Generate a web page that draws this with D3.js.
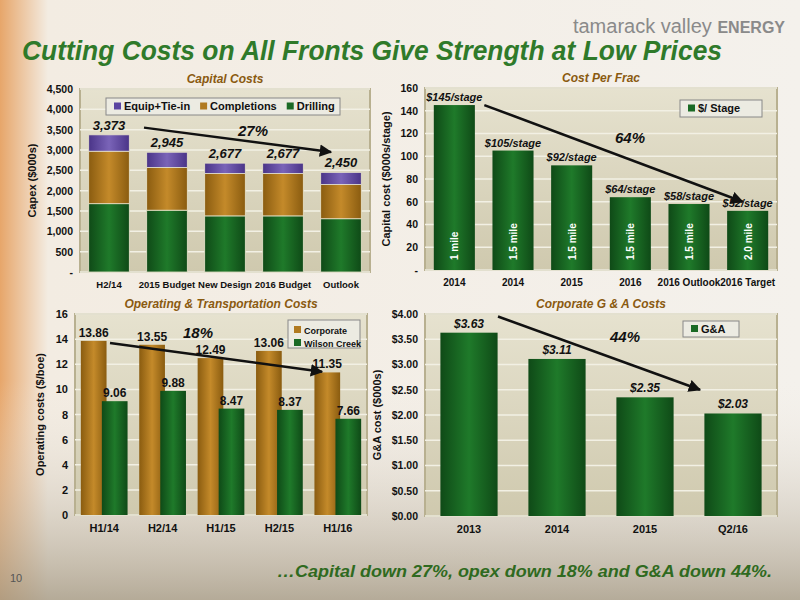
<!DOCTYPE html><html><head><meta charset="utf-8"><script src="https://cdn.jsdelivr.net/npm/d3@7"></script>
<style>body{margin:0}svg{display:block;font-family:"Liberation Sans",Arial,sans-serif}</style></head><body><svg id="c" width="800" height="600"></svg>
<script>
const capCats=["H2/14","2015 Budget","New Design","2016 Budget","Outlook"];
const drilling=[1680,1520,1380,1380,1310];
const completions=[1290,1050,1040,1040,840];
const equip=[403,375,257,257,300];
const capTotals=["3,373","2,945","2,677","2,677","2,450"];
const capTicks=[0,500,1000,1500,2000,2500,3000,3500,4000,4500];
const fracCats=["2014","2014 ","2015","2016","2016 Outlook","2016 Target"];
const fracVals=[145,105,92,64,58,52];
const fracLabels=["1 mile","1.5 mile","1.5 mile","1.5 mile","1.5 mile","2.0 mile"];
const fracTicks=[0,20,40,60,80,100,120,140,160];
const opCats=["H1/14","H2/14","H1/15","H2/15","H1/16"];
const corporate=[13.86,13.55,12.49,13.06,11.35];
const wilson=[9.06,9.88,8.47,8.37,7.66];
const opTicks=[0,2,4,6,8,10,12,14,16];
const gaCats=["2013","2014","2015","Q2/16"];
const gaVals=[3.63,3.11,2.35,2.03];
const gaTicks=[0,0.5,1,1.5,2,2.5,3,3.5,4];

const svg=d3.select("#c");
const defs=svg.append("defs");
const bg=defs.append("linearGradient").attr("id","bg").attr("x1",0).attr("x2",1);
bg.append("stop").attr("offset",0).attr("stop-color","#e7a66a");
bg.append("stop").attr("offset",0.06).attr("stop-color","#f3ece2");
bg.append("stop").attr("offset",1).attr("stop-color","#f4f1ec");
const bg2=defs.append("linearGradient").attr("id","bg2").attr("x1",0).attr("x2",0).attr("y1",0).attr("y2",1);
bg2.append("stop").attr("offset",0).attr("stop-color","#f4efe8").attr("stop-opacity",0);
bg2.append("stop").attr("offset",1).attr("stop-color","#a59a85").attr("stop-opacity",0.8);
const pa=defs.append("linearGradient").attr("id","pa").attr("x1",0).attr("x2",0).attr("y1",0).attr("y2",1);
pa.append("stop").attr("offset",0).attr("stop-color","#e6e2cf");
pa.append("stop").attr("offset",1).attr("stop-color","#cfc9ae");
function barGrad(id,dark,light){const g=defs.append("linearGradient").attr("id",id).attr("x1",0).attr("x2",1);
 g.append("stop").attr("offset",0).attr("stop-color",dark);g.append("stop").attr("offset",0.5).attr("stop-color",light);g.append("stop").attr("offset",1).attr("stop-color",dark);}
barGrad("gG","#0f4a17","#1f7a2a");barGrad("gO","#8a5c10","#c48a2a");barGrad("gP","#4a3488","#7a64b8");
defs.append("marker").attr("id","ar").attr("viewBox","0 0 10 10").attr("refX",9).attr("refY",5).attr("markerWidth",5).attr("markerHeight",5).attr("orient","auto")
 .append("path").attr("d","M0,0L10,5L0,10z").attr("fill","#111");

svg.append("rect").attr("width",800).attr("height",600).attr("fill","url(#bg)");
svg.append("rect").attr("y",380).attr("width",800).attr("height",220).attr("fill","url(#bg2)");
svg.append("text").attr("x",785).attr("y",33).attr("text-anchor","end").attr("font-size",20).attr("fill","#8a8a8a").text("tamarack valley ").append("tspan").attr("font-weight","bold").attr("font-size",16).text("ENERGY");
svg.append("text").attr("x",22).attr("y",60).attr("font-size",27).attr("font-weight","bold").attr("font-style","italic").attr("fill","#2f7a2a").attr("textLength",700).attr("lengthAdjust","spacingAndGlyphs").text("Cutting Costs on All Fronts Give Strength at Low Prices");
svg.append("text").attr("x",772).attr("y",577).attr("text-anchor","end").attr("font-size",17).attr("font-weight","bold").attr("font-style","italic").attr("fill","#2f6a20").attr("textLength",495).attr("lengthAdjust","spacingAndGlyphs").text("…Capital down 27%, opex down 18% and G&A down 44%.");
svg.append("text").attr("x",10).attr("y",582).attr("font-size",11).attr("fill","#555").text("10");

function panel(o){
 const g=svg.append("g");
 const x=d3.scaleBand().domain(o.cats).range([o.x0,o.x1]).paddingInner(o.pad).paddingOuter(o.pad/2);
 const y=d3.scaleLinear().domain([0,o.max]).range([o.y1,o.y0]);
 g.append("rect").attr("x",o.x0).attr("y",o.y0).attr("width",o.x1-o.x0).attr("height",o.y1-o.y0).attr("fill","url(#pa)").attr("stroke","#b8b090").attr("stroke-width",2);
 g.selectAll(".gl").data(o.ticks).join("line").attr("x1",o.x0).attr("x2",o.x1).attr("y1",d=>y(d)).attr("y2",d=>y(d)).attr("stroke","#f2f0e4").attr("stroke-width",1.5);
 const ya=g.append("g").attr("transform",`translate(${o.x0},0)`).call(d3.axisLeft(y).tickValues(o.ticks).tickFormat(o.fmt).tickSize(0).tickPadding(7));
 ya.select(".domain").remove();
 ya.selectAll(".tick text").attr("font-size",o.yfs||11);
 const xa=g.append("g").attr("transform",`translate(0,${o.y1})`).call(d3.axisBottom(x).tickSize(0).tickPadding(9));
 xa.select(".domain").remove();
 xa.selectAll(".tick text").attr("font-size",o.xfs||11);
 g.selectAll(".tick text").attr("font-weight","bold").attr("fill","#111");
 g.append("text").attr("x",(o.x0+o.x1)/2).attr("y",o.y0-6).attr("text-anchor","middle").attr("font-size",12).attr("font-style","italic").attr("font-weight","bold").attr("fill","#8a5a10").text(o.title);
 g.append("text").attr("transform",`translate(${o.yl},${(o.y0+o.y1)/2}) rotate(-90)`).attr("text-anchor","middle").attr("font-size",11).attr("font-weight","bold").attr("fill","#111").text(o.ytitle);
 return {g,x,y};
}
function legend(g,x,y,items,w,h,vertical){
 g.append("rect").attr("x",x).attr("y",y).attr("width",w).attr("height",h).attr("fill","#ecebe2").attr("stroke","#888");
 let cx=x+8;
 items.forEach((it,i)=>{
  const ly=vertical? y+10+i*13 : y+h/2;
  const lx=vertical? x+6 : cx;
  g.append("rect").attr("x",lx).attr("y",ly-4).attr("width",7).attr("height",7).attr("fill",it[1]);
  const t=g.append("text").attr("x",lx+10).attr("y",ly+3.5).attr("font-size",vertical?9:11).attr("font-weight","bold").attr("fill","#111").text(it[0]);
  if(!vertical) cx+=t.node().getComputedTextLength()+20;
 });
}
const lbl=(g,x,y,t,s,it)=>g.append("text").attr("x",x).attr("y",y).attr("text-anchor","middle").attr("font-size",s||12).attr("font-weight","bold").attr("font-style",it?"italic":"normal").attr("fill","#111").text(t);
const arrow=(g,x1,y1,x2,y2)=>g.append("line").attr("x1",x1).attr("y1",y1).attr("x2",x2).attr("y2",y2).attr("stroke","#111").attr("stroke-width",2.5).attr("marker-end","url(#ar)");

// Panel 1
{const p=panel({cats:capCats,x0:80,x1:370,y0:89,y1:272,max:4500,ticks:capTicks,pad:0.3,xfs:9.5,yfs:10.5,fmt:d=>d===0?"-":d3.format(",")(d),title:"Capital Costs",ytitle:"Capex ($000s)",yl:36});
 const st=d3.stack().keys(["d","c","e"])(capCats.map((cat,i)=>({cat,d:drilling[i],c:completions[i],e:equip[i]})));
 const fills=["url(#gG)","url(#gO)","url(#gP)"];
 st.forEach((s,k)=>p.g.selectAll(null).data(s).join("rect").attr("x",(d)=>p.x(d.data.cat)).attr("width",p.x.bandwidth()).attr("y",d=>p.y(d[1])).attr("height",d=>p.y(d[0])-p.y(d[1])).attr("fill",fills[k]).attr("stroke","#e8e4cc").attr("stroke-width",0.8));
 capCats.forEach((c,i)=>lbl(p.g,p.x(c)+p.x.bandwidth()/2,p.y(drilling[i]+completions[i]+equip[i])-5,capTotals[i],13,true));
 legend(p.g,106,98,[["Equip+Tie-in","#5a44a0"],["Completions","#b07a20"],["Drilling","#1a6a25"]],234,17,false);
 arrow(p.g,p.x(capCats[0])+p.x.bandwidth()/2+35,p.y(3550),p.x(capCats[4])+p.x.bandwidth()/2-10,p.y(2950));
 lbl(p.g,253,p.y(3350),"27%",15,true);
}
// Panel 2
{const p=panel({cats:fracCats,x0:425,x1:777,y0:88,y1:270,max:160,ticks:fracTicks,pad:0.3,xfs:10,yfs:10.5,fmt:d=>d===0?"-":d,title:"Cost Per Frac",ytitle:"Capital cost ($000s/stage)",yl:390});
 p.g.selectAll(null).data(fracVals).join("rect").attr("x",(d,i)=>p.x(fracCats[i])).attr("width",p.x.bandwidth()).attr("y",d=>p.y(d)).attr("height",d=>p.y(0)-p.y(d)).attr("fill","url(#gG)");
 fracVals.forEach((v,i)=>{const cx=p.x(fracCats[i])+p.x.bandwidth()/2;
  lbl(p.g,cx,p.y(v)-4,"$"+v+"/stage",11,true);
  p.g.append("text").attr("transform",`translate(${cx+4},${p.y(0)-10}) rotate(-90)`).attr("font-size",10).attr("font-weight","bold").attr("fill","#fff").text(fracLabels[i]);});
 legend(p.g,680,100,[["$/ Stage","#1a6a25"]],82,17,false);
 arrow(p.g,p.x(fracCats[0])+p.x.bandwidth()/2+30,p.y(145),p.x(fracCats[5])+p.x.bandwidth()/2-5,p.y(60));
 lbl(p.g,630,p.y(112),"64%",15,true);
}
// Panel 3
{const p=panel({cats:opCats,x0:75,x1:367,y0:314,y1:515,max:16,ticks:opTicks,pad:0.2,xfs:11,yfs:11,fmt:d=>d,title:"Operating & Transportation Costs",ytitle:"Operating costs ($/boe)",yl:44});
 const bw=p.x.bandwidth()*0.55;
 p.g.selectAll(null).data(corporate).join("rect").attr("x",(d,i)=>p.x(opCats[i])).attr("width",bw).attr("y",d=>p.y(d)).attr("height",d=>p.y(0)-p.y(d)).attr("fill","url(#gO)");
 p.g.selectAll(null).data(wilson).join("rect").attr("x",(d,i)=>p.x(opCats[i])+p.x.bandwidth()-bw).attr("width",bw).attr("y",d=>p.y(d)).attr("height",d=>p.y(0)-p.y(d)).attr("fill","url(#gG)");
 opCats.forEach((c,i)=>{lbl(p.g,p.x(c)+bw/2,p.y(corporate[i])-4,corporate[i].toFixed(2),12);lbl(p.g,p.x(c)+p.x.bandwidth()-bw/2,p.y(wilson[i])-4,wilson[i].toFixed(2),12);});
 legend(p.g,288,320,[["Corporate","#b07a20"],["Wilson Creek","#1a6a25"]],72,28,true);
 arrow(p.g,110,p.y(13.7),322,p.y(11.4));
 lbl(p.g,198,p.y(14.1),"18%",15,true);
}
// Panel 4
{const p=panel({cats:gaCats,x0:425,x1:777,y0:314,y1:516,max:4,ticks:gaTicks,pad:0.35,xfs:11,yfs:10.5,fmt:d3.format("$.2f"),title:"Corporate G & A Costs",ytitle:"G&A cost ($000s)",yl:381});
 p.g.selectAll(null).data(gaVals).join("rect").attr("x",(d,i)=>p.x(gaCats[i])).attr("width",p.x.bandwidth()).attr("y",d=>p.y(d)).attr("height",d=>p.y(0)-p.y(d)).attr("fill","url(#gG)");
 gaVals.forEach((v,i)=>lbl(p.g,p.x(gaCats[i])+p.x.bandwidth()/2,p.y(v)-5,"$"+v.toFixed(2),12,true));
 legend(p.g,683,321,[["G&A","#1a6a25"]],56,16,false);
 arrow(p.g,498,p.y(3.95),700,p.y(2.5));
 lbl(p.g,625,p.y(3.45),"44%",15,true);
}
</script></body></html>
